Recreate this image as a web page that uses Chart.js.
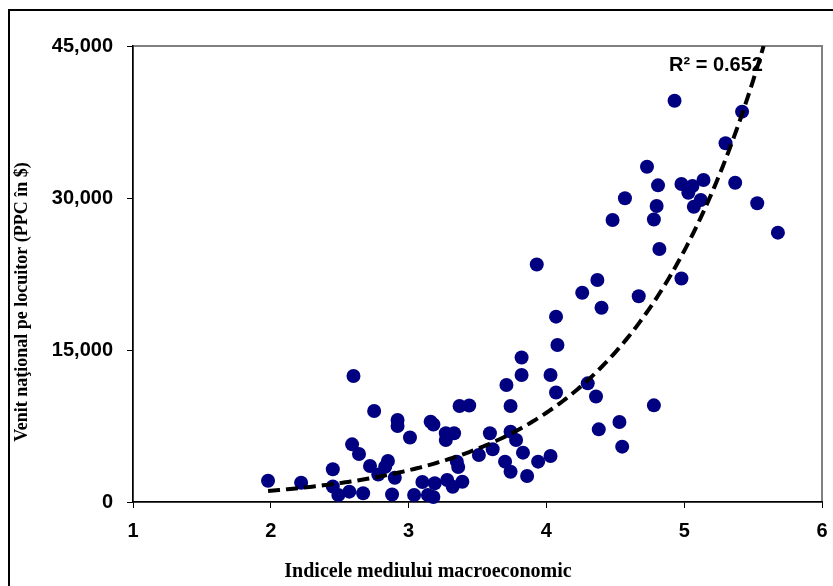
<!DOCTYPE html>
<html><head><meta charset="utf-8">
<script src="https://cdn.jsdelivr.net/npm/chart.js@4.4.0/dist/chart.umd.min.js"></script>
<style>html,body{margin:0;padding:0;background:#fff;}#wrap{position:relative;width:833px;height:586px;}</style>
</head><body><div id="wrap"><canvas id="c" width="833" height="586"></canvas></div>
<script>
// Data
const xValues = [1.98,2.22,2.45,2.45,2.49,2.57,2.67,2.60,2.59,2.64,
  2.72,2.78,2.75,2.85,2.83,2.90,2.88,2.92,2.92,3.01,
  3.04,3.10,3.14,3.18,3.16,3.18,3.19,3.27,3.33,3.27,
  3.28,3.32,3.39,3.37,3.44,3.35,3.36,3.51,3.59,3.61,
  3.70,3.74,3.71,3.74,3.74,3.78,3.83,3.86,3.94,4.03,
  3.82,3.82,4.03,4.07,3.93,4.07,4.08,4.26,4.37,4.40,
  4.30,4.36,4.38,4.53,4.55,4.78,4.67,4.98,4.82,4.48,
  4.78,4.57,4.80,4.73,4.81,4.93,4.98,5.06,5.14,5.03,
  5.12,5.07,5.37,5.30,5.42,5.53,5.68];
const yValues = [2100,1900,3230,1530,690,1020,860,12430,5690,4740,
  3550,2710,8980,4050,3480,2400,740,8090,7500,6370,
  690,1970,690,490,7920,7650,1850,6780,6780,6120,
  2170,1510,2000,9470,9520,3980,3450,4640,6780,5200,
  3980,2990,11550,9470,6940,6120,4870,2570,3980,4540,
  12530,14260,12530,10810,23440,18290,15490,20650,21910,19170,
  11710,10410,7170,7890,5460,9540,20300,22060,24970,27830,
  27880,29970,29210,33090,31250,39600,31380,31180,31780,30520,
  29800,29140,31510,35400,38520,29480,26580];
const xTicks = [1,2,3,4,5,6];
const yTicks = [0,15000,30000,45000];
// Exponential trendline y = a * e^(b x), coefficients
const trendA = 140.2;
const trendB = 1.035;
const trendStartX = 1.98;
const rSquaredLabel = 'R² = 0.652';
const xTitle = 'Indicele mediului macroeconomic';
const yTitle = 'Venit naţional pe locuitor (PPC în $)';

const points = xValues.map((x,i)=>({x:x, y:yValues[i]}));
const yMax = yTicks[yTicks.length-1];
const trendEndX = Math.log(yMax/trendA)/trendB;
const trendPts = [];
for (let x = trendStartX; x < trendEndX; x += 0.02) trendPts.push({x:x, y:trendA*Math.exp(trendB*x)});
trendPts.push({x:trendEndX, y:yMax});

const decor = {
  id:'decor',
  beforeDraw(chart){
    const c = chart.ctx, a = chart.chartArea;
    c.save();
    c.fillStyle = '#fff'; c.fillRect(0,0,chart.width,chart.height);
    c.strokeStyle = '#000'; c.lineWidth = 2;
    c.beginPath(); c.moveTo(9, chart.height); c.lineTo(9, 10); c.lineTo(chart.width, 10); c.stroke();
    c.strokeStyle = '#808080'; c.lineWidth = 2;
    c.strokeRect(a.left, a.top, a.right-a.left, a.bottom-a.top);
    c.restore();
  },
  afterDraw(chart){
    const c = chart.ctx, a = chart.chartArea;
    c.save();
    c.fillStyle = '#000';
    c.font = 'bold 20px "Liberation Sans", Arial, sans-serif';
    c.textAlign = 'left'; c.textBaseline = 'alphabetic';
    c.fillText(rSquaredLabel, a.left + 536, a.top + 25);
    c.font = 'bold 20px "Liberation Serif", "Times New Roman", serif';
    c.textAlign = 'center'; c.textBaseline = 'middle';
    c.fillText(xTitle, 428, 572);
    c.translate(22, 302); c.rotate(-Math.PI/2);
    c.font = 'bold 18px "Liberation Serif", "Times New Roman", serif';
    c.fillText(yTitle, 0, 0);
    c.restore();
  }
};

const tickFont = {family:'"Liberation Sans", Arial, sans-serif', weight:'bold', size:20};
new Chart(document.getElementById('c'), {
  type:'scatter',
  data:{datasets:[
    {label:'Trend', type:'line', data:trendPts, borderColor:'#000', borderWidth:4, borderDash:[12,6],
     pointRadius:0, fill:false, tension:0, order:0},
    {label:'Date', data:points, backgroundColor:'#000080', borderColor:'#000080', borderWidth:0,
     pointRadius:7, pointHoverRadius:7, clip:false, order:1}
  ]},
  options:{
    responsive:false, animation:false,
    layout:{padding:{left:0, top:46, right:11, bottom:0}},
    plugins:{legend:{display:false}, tooltip:{enabled:false}},
    scales:{
      x:{type:'linear', min:xTicks[0], max:xTicks[xTicks.length-1],
        afterBuildTicks:s=>{ s.ticks = xTicks.map(v=>({value:v})); },
        ticks:{font:tickFont, color:'#000', padding:11, maxRotation:0, callback:v=>String(v)},
        grid:{drawOnChartArea:false, drawTicks:true, tickLength:6, tickColor:'#000', color:'#000'},
        border:{display:true, color:'#000', width:1.5},
        afterFit:s=>{ s.height = 84; s.paddingLeft = 0; s.paddingRight = 0; }
      },
      y:{type:'linear', min:0, max:yMax,
        afterBuildTicks:s=>{ s.ticks = yTicks.map(v=>({value:v})); },
        ticks:{font:tickFont, color:'#000', padding:14, callback:v=>Number(v).toLocaleString('en-US')},
        grid:{drawOnChartArea:false, drawTicks:true, tickLength:6, tickColor:'#000', color:'#000'},
        border:{display:true, color:'#000', width:1.5},
        afterFit:s=>{ s.width = 133; s.paddingTop = 0; s.paddingBottom = 0; }
      }
    }
  },
  plugins:[decor]
});
</script></body></html>
